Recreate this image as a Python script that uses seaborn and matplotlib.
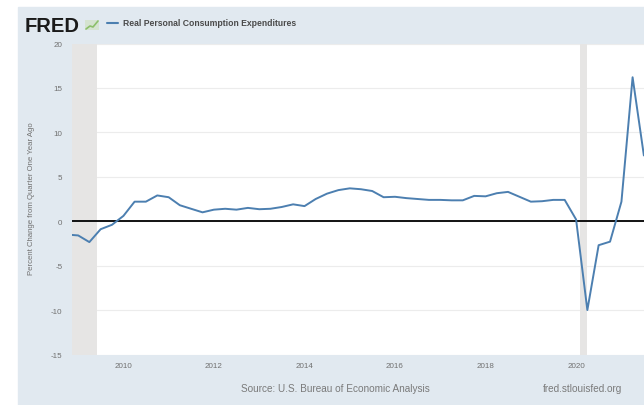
import pandas as pd
import matplotlib
matplotlib.use("Agg")
import matplotlib.pyplot as plt
import matplotlib.dates as mdates
from matplotlib.patches import Rectangle
from matplotlib.lines import Line2D
import seaborn as sns

# Real PCE, percent change from quarter one year ago (2008Q4 - 2021Q3)
quarters = pd.date_range("2008-10-01", "2021-07-01", freq="QS")
pct_change = [
    -1.5,
    -1.6, -2.35, -0.9, -0.4,
    0.6, 2.2, 2.2, 2.9,
    2.7, 1.8, 1.4, 1.0,
    1.3, 1.4, 1.3, 1.5,
    1.35, 1.4, 1.6, 1.9,
    1.7, 2.5, 3.1, 3.5,
    3.7, 3.6, 3.4, 2.7,
    2.75, 2.6, 2.5, 2.4,
    2.4, 2.35, 2.35, 2.85,
    2.8, 3.15, 3.3, 2.75,
    2.2, 2.25, 2.4, 2.4,
    0.2, -10.0, -2.7, -2.3,
    2.2, 16.2, 7.4,
]
recession_start = ["2007-12-01", "2020-02-01"]
recession_end = ["2009-06-01", "2020-04-01"]
y_ticks = [-15, -10, -5, 0, 5, 10, 15, 20]

series_name = "Real Personal Consumption Expenditures"
y_label = "Percent Change from Quarter One Year Ago"
source = "Source: U.S. Bureau of Economic Analysis"

df = pd.DataFrame({"date": quarters, "pct": pct_change})

sns.set_style("white")
plt.rcParams["font.family"] = ["Liberation Sans", "DejaVu Sans"]
plt.rcParams["axes.unicode_minus"] = False

W, H = 644, 406
line_color = "#4c7fb0"
panel_color = "#e1e9f0"
text_color = "#707070"

fig = plt.figure(figsize=(W / 100, H / 100), dpi=100)
fig.patch.set_facecolor("white")
fig.add_artist(Rectangle((18 / W, 0), 1, 1 - 8 / H, transform=fig.transFigure,
                         color=panel_color, zorder=-5))

ax = fig.add_axes([72 / W, (H - 355.5) / H, 1 - 72 / W, (355.5 - 44.5) / H])
ax.set_facecolor("white")

for s, e in zip(recession_start, recession_end):
    ax.axvspan(pd.Timestamp(s), pd.Timestamp(e), color="#e6e5e4", lw=0, zorder=1)

ax.axhline(0, color="black", lw=1.3, zorder=2)
sns.lineplot(data=df, x="date", y="pct", ax=ax, color=line_color, lw=1.4, zorder=3)

ax.set_xlim(pd.Timestamp("2008-11-12"), pd.Timestamp("2021-07-02"))
ax.set_ylim(-15, 20)
ax.set_yticks(y_ticks)
ax.xaxis.set_major_locator(mdates.YearLocator(2))
ax.xaxis.set_major_formatter(mdates.DateFormatter("%Y"))
ax.yaxis.grid(True, color="#ececec", lw=0.8)
ax.set_axisbelow(True)
ax.tick_params(length=0, labelsize=5.8, colors=text_color)
ax.tick_params(axis="y", pad=7)
ax.tick_params(axis="x", pad=5.4)
ax.set_xlabel("")
ax.set_ylabel("")
for sp in ax.spines.values():
    sp.set_visible(False)

fig.text(32 / W, 1 - 199 / H, y_label, rotation=90, ha="center", va="center",
         fontsize=5.6, color=text_color)

# header: logo + legend
fig.text(25 / W, 1 - 32 / H, "FRED", fontsize=14.5, fontweight="heavy",
         color="#1a1a1a", ha="left", va="baseline")
fig.add_artist(Rectangle((85 / W, 1 - 31 / H), 14 / W, 10 / H,
                         transform=fig.transFigure, color="#d5e3d0", lw=0))
fig.add_artist(Line2D([86 / W, 90 / W, 93 / W, 98 / W],
                      [1 - 30 / H, 1 - 27 / H, 1 - 28 / H, 1 - 22 / H],
                      transform=fig.transFigure, color="#8cbf6a", lw=1.2))
fig.add_artist(Line2D([107 / W, 118 / W], [1 - 24 / H, 1 - 24 / H],
                      transform=fig.transFigure, color=line_color, lw=1.5))
fig.text(123 / W, 1 - 24 / H, series_name, fontsize=6.2, fontweight="bold",
         color="#4a4a4a", ha="left", va="center")

# footer
fig.text(335 / W, 1 - 389 / H, source, fontsize=7.2, color="#7a7a7a",
         ha="center", va="center")
fig.text(582 / W, 1 - 389 / H, "fred.stlouisfed.org", fontsize=7.2,
         color="#7a7a7a", ha="center", va="center")

fig.savefig("out.png", dpi=100)
